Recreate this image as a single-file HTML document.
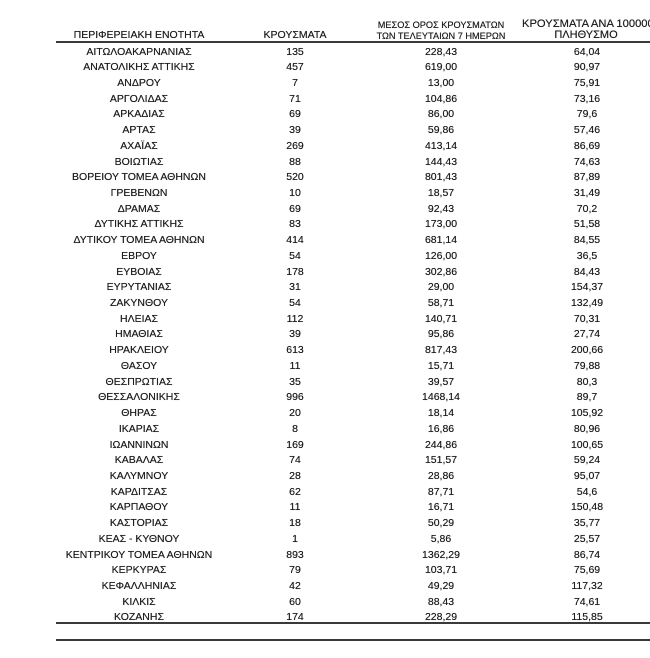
<!DOCTYPE html>
<html><head><meta charset="utf-8">
<style>
html,body{margin:0;padding:0;background:#fff;}
body{width:650px;height:658px;position:relative;overflow:hidden;font-family:"Liberation Sans",Arial,sans-serif;color:#1e1e1e;text-shadow:0 0 0.35px #1e1e1e;}
.h{position:absolute;white-space:nowrap;line-height:14px;}
.r{position:absolute;left:0;width:650px;height:16px;line-height:16px;font-size:10.5px;}
.r span{position:absolute;top:0;width:200px;text-align:center;white-space:nowrap;}
.a{left:39px}.b{left:195px}.c{left:341px}.d{left:487px}
.ln{position:absolute;left:56px;width:594px;background:#3a3a3a;}
</style></head><body>
<div class="h" style="left:39px;width:200px;text-align:center;top:28px;font-size:10.5px;">ΠΕΡΙΦΕΡΕΙΑΚΗ ΕΝΟΤΗΤΑ</div>
<div class="h" style="left:195px;width:200px;text-align:center;top:28px;font-size:10.5px;">ΚΡΟΥΣΜΑΤΑ</div>
<div class="h" style="left:341px;width:200px;text-align:center;top:18px;font-size:9.2px;">ΜΕΣΟΣ ΟΡΟΣ ΚΡΟΥΣΜΑΤΩΝ</div>
<div class="h" style="left:341px;width:200px;text-align:center;top:29px;font-size:9.2px;">ΤΩΝ ΤΕΛΕΥΤΑΙΩΝ 7 ΗΜΕΡΩΝ</div>
<div class="h" style="left:522px;top:17px;font-size:11.2px;">ΚΡΟΥΣΜΑΤΑ ΑΝΑ 100000</div>
<div class="h" style="left:486px;width:200px;text-align:center;top:28px;font-size:11px;">ΠΛΗΘΥΣΜΟ</div>
<div class="ln" style="top:41px;height:2px;"></div>

<div class="r" style="top:43.5px"><span class="a">ΑΙΤΩΛΟΑΚΑΡΝΑΝΙΑΣ</span><span class="b">135</span><span class="c">228,43</span><span class="d">64,04</span></div>
<div class="r" style="top:59.22px"><span class="a">ΑΝΑΤΟΛΙΚΗΣ ΑΤΤΙΚΗΣ</span><span class="b">457</span><span class="c">619,00</span><span class="d">90,97</span></div>
<div class="r" style="top:74.94px"><span class="a">ΑΝΔΡΟΥ</span><span class="b">7</span><span class="c">13,00</span><span class="d">75,91</span></div>
<div class="r" style="top:90.66px"><span class="a">ΑΡΓΟΛΙΔΑΣ</span><span class="b">71</span><span class="c">104,86</span><span class="d">73,16</span></div>
<div class="r" style="top:106.38px"><span class="a">ΑΡΚΑΔΙΑΣ</span><span class="b">69</span><span class="c">86,00</span><span class="d">79,6</span></div>
<div class="r" style="top:122.1px"><span class="a">ΑΡΤΑΣ</span><span class="b">39</span><span class="c">59,86</span><span class="d">57,46</span></div>
<div class="r" style="top:137.82px"><span class="a">ΑΧΑΪΑΣ</span><span class="b">269</span><span class="c">413,14</span><span class="d">86,69</span></div>
<div class="r" style="top:153.54px"><span class="a">ΒΟΙΩΤΙΑΣ</span><span class="b">88</span><span class="c">144,43</span><span class="d">74,63</span></div>
<div class="r" style="top:169.26px"><span class="a">ΒΟΡΕΙΟΥ ΤΟΜΕΑ ΑΘΗΝΩΝ</span><span class="b">520</span><span class="c">801,43</span><span class="d">87,89</span></div>
<div class="r" style="top:184.98px"><span class="a">ΓΡΕΒΕΝΩΝ</span><span class="b">10</span><span class="c">18,57</span><span class="d">31,49</span></div>
<div class="r" style="top:200.7px"><span class="a">ΔΡΑΜΑΣ</span><span class="b">69</span><span class="c">92,43</span><span class="d">70,2</span></div>
<div class="r" style="top:216.42px"><span class="a">ΔΥΤΙΚΗΣ ΑΤΤΙΚΗΣ</span><span class="b">83</span><span class="c">173,00</span><span class="d">51,58</span></div>
<div class="r" style="top:232.14px"><span class="a">ΔΥΤΙΚΟΥ ΤΟΜΕΑ ΑΘΗΝΩΝ</span><span class="b">414</span><span class="c">681,14</span><span class="d">84,55</span></div>
<div class="r" style="top:247.86px"><span class="a">ΕΒΡΟΥ</span><span class="b">54</span><span class="c">126,00</span><span class="d">36,5</span></div>
<div class="r" style="top:263.58px"><span class="a">ΕΥΒΟΙΑΣ</span><span class="b">178</span><span class="c">302,86</span><span class="d">84,43</span></div>
<div class="r" style="top:279.3px"><span class="a">ΕΥΡΥΤΑΝΙΑΣ</span><span class="b">31</span><span class="c">29,00</span><span class="d">154,37</span></div>
<div class="r" style="top:295.02px"><span class="a">ΖΑΚΥΝΘΟΥ</span><span class="b">54</span><span class="c">58,71</span><span class="d">132,49</span></div>
<div class="r" style="top:310.74px"><span class="a">ΗΛΕΙΑΣ</span><span class="b">112</span><span class="c">140,71</span><span class="d">70,31</span></div>
<div class="r" style="top:326.46px"><span class="a">ΗΜΑΘΙΑΣ</span><span class="b">39</span><span class="c">95,86</span><span class="d">27,74</span></div>
<div class="r" style="top:342.18px"><span class="a">ΗΡΑΚΛΕΙΟΥ</span><span class="b">613</span><span class="c">817,43</span><span class="d">200,66</span></div>
<div class="r" style="top:357.9px"><span class="a">ΘΑΣΟΥ</span><span class="b">11</span><span class="c">15,71</span><span class="d">79,88</span></div>
<div class="r" style="top:373.62px"><span class="a">ΘΕΣΠΡΩΤΙΑΣ</span><span class="b">35</span><span class="c">39,57</span><span class="d">80,3</span></div>
<div class="r" style="top:389.34px"><span class="a">ΘΕΣΣΑΛΟΝΙΚΗΣ</span><span class="b">996</span><span class="c">1468,14</span><span class="d">89,7</span></div>
<div class="r" style="top:405.06px"><span class="a">ΘΗΡΑΣ</span><span class="b">20</span><span class="c">18,14</span><span class="d">105,92</span></div>
<div class="r" style="top:420.78px"><span class="a">ΙΚΑΡΙΑΣ</span><span class="b">8</span><span class="c">16,86</span><span class="d">80,96</span></div>
<div class="r" style="top:436.5px"><span class="a">ΙΩΑΝΝΙΝΩΝ</span><span class="b">169</span><span class="c">244,86</span><span class="d">100,65</span></div>
<div class="r" style="top:452.22px"><span class="a">ΚΑΒΑΛΑΣ</span><span class="b">74</span><span class="c">151,57</span><span class="d">59,24</span></div>
<div class="r" style="top:467.94px"><span class="a">ΚΑΛΥΜΝΟΥ</span><span class="b">28</span><span class="c">28,86</span><span class="d">95,07</span></div>
<div class="r" style="top:483.66px"><span class="a">ΚΑΡΔΙΤΣΑΣ</span><span class="b">62</span><span class="c">87,71</span><span class="d">54,6</span></div>
<div class="r" style="top:499.38px"><span class="a">ΚΑΡΠΑΘΟΥ</span><span class="b">11</span><span class="c">16,71</span><span class="d">150,48</span></div>
<div class="r" style="top:515.1px"><span class="a">ΚΑΣΤΟΡΙΑΣ</span><span class="b">18</span><span class="c">50,29</span><span class="d">35,77</span></div>
<div class="r" style="top:530.82px"><span class="a">ΚΕΑΣ - ΚΥΘΝΟΥ</span><span class="b">1</span><span class="c">5,86</span><span class="d">25,57</span></div>
<div class="r" style="top:546.54px"><span class="a">ΚΕΝΤΡΙΚΟΥ ΤΟΜΕΑ ΑΘΗΝΩΝ</span><span class="b">893</span><span class="c">1362,29</span><span class="d">86,74</span></div>
<div class="r" style="top:562.26px"><span class="a">ΚΕΡΚΥΡΑΣ</span><span class="b">79</span><span class="c">103,71</span><span class="d">75,69</span></div>
<div class="r" style="top:577.98px"><span class="a">ΚΕΦΑΛΛΗΝΙΑΣ</span><span class="b">42</span><span class="c">49,29</span><span class="d">117,32</span></div>
<div class="r" style="top:593.7px"><span class="a">ΚΙΛΚΙΣ</span><span class="b">60</span><span class="c">88,43</span><span class="d">74,61</span></div>
<div class="r" style="top:609.42px"><span class="a">ΚΟΖΑΝΗΣ</span><span class="b">174</span><span class="c">228,29</span><span class="d">115,85</span></div>

<div class="ln" style="top:622px;height:2px;"></div>
<div class="ln" style="top:639px;height:2px;"></div>
</body></html>
